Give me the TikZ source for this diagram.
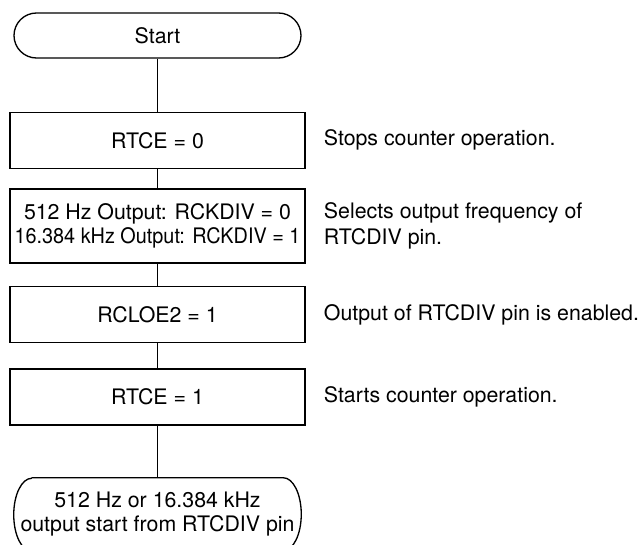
\documentclass[tikz,border=0pt]{standalone}
\usepackage{fontspec}
\setmainfont{TeX Gyre Heros}
\usepackage{tikz}
\usetikzlibrary{positioning}
\tikzset{
	terminal/.style={
		draw, rectangle, rounded corners=16.875pt,
		minimum width=215.25pt, minimum height=33.75pt,
		inner sep=0pt, line width=1pt
	},
	process/.style={
		draw, rectangle, minimum width=221.25pt, minimum height=42pt,
		inner sep=0pt, line width=1pt, align=center
	},
	note/.style={
		inner sep=0pt, align=left,
		font=\fontsize{16}{20}\selectfont
	},
	flow/.style={line width=1pt}
}
\begin{document}
\begin{tikzpicture}[x=0.75pt, y=-0.75pt, font=\fontsize{16}{18}\selectfont]
				\path[use as bounding box, clip] (0,0) rectangle (643,545);
				\node[terminal] (start) at (157.5,35.5) {Start};
				\node[process] (rtceoff) at (157.5,140.3) {RTCE = 0};
				\node[process, minimum height=55.5pt] (rckdiv) at (157.5,226)
					{512 Hz Output: RCKDIV = 0\\\scalebox{0.93}[1]{16.384 kHz Output: RCKDIV = 1}};
				\node[process] (rcloe) at (157.5,314.5) {RCLOE2 = 1};
				\node[process] (rtceon) at (157.5,397) {RTCE = 1};
				\node[inner sep=0pt, minimum width=215.25pt, minimum height=54.75pt, align=center] (finish)
					at (157.5,514.5) {512 Hz or 16.384 kHz\\output start from RTCDIV pin};
				\node[note, right=13.5pt of rtceoff] (stopnote) {Stops counter operation.};
				\node[note, right=13.5pt of rckdiv] (freqnote) {Selects output frequency of\\RTCDIV pin.};
				\node[note, right=13.5pt of rcloe] (pinnote) {Output of RTCDIV pin is enabled.};
				\node[note, right=13.5pt of rtceon] (startnote) {Starts counter operation.};
				\draw[flow] ([xshift=13.5pt]finish.north west) -- ([xshift=-13.5pt]finish.north east)
					arc[start angle=90, end angle=-90, x radius=13.5pt, y radius=27.375pt]
					-- ([xshift=13.5pt]finish.south west)
					arc[start angle=270, end angle=90, x radius=13.5pt, y radius=27.375pt];
				\draw[flow] (start) -- (rtceoff);
				\draw[flow] (rtceoff) -- (rckdiv);
				\draw[flow] (rckdiv) -- (rcloe);
				\draw[flow] (rcloe) -- (rtceon);
				\draw[flow] (rtceon) -- (finish);
			\end{tikzpicture}
\end{document}
